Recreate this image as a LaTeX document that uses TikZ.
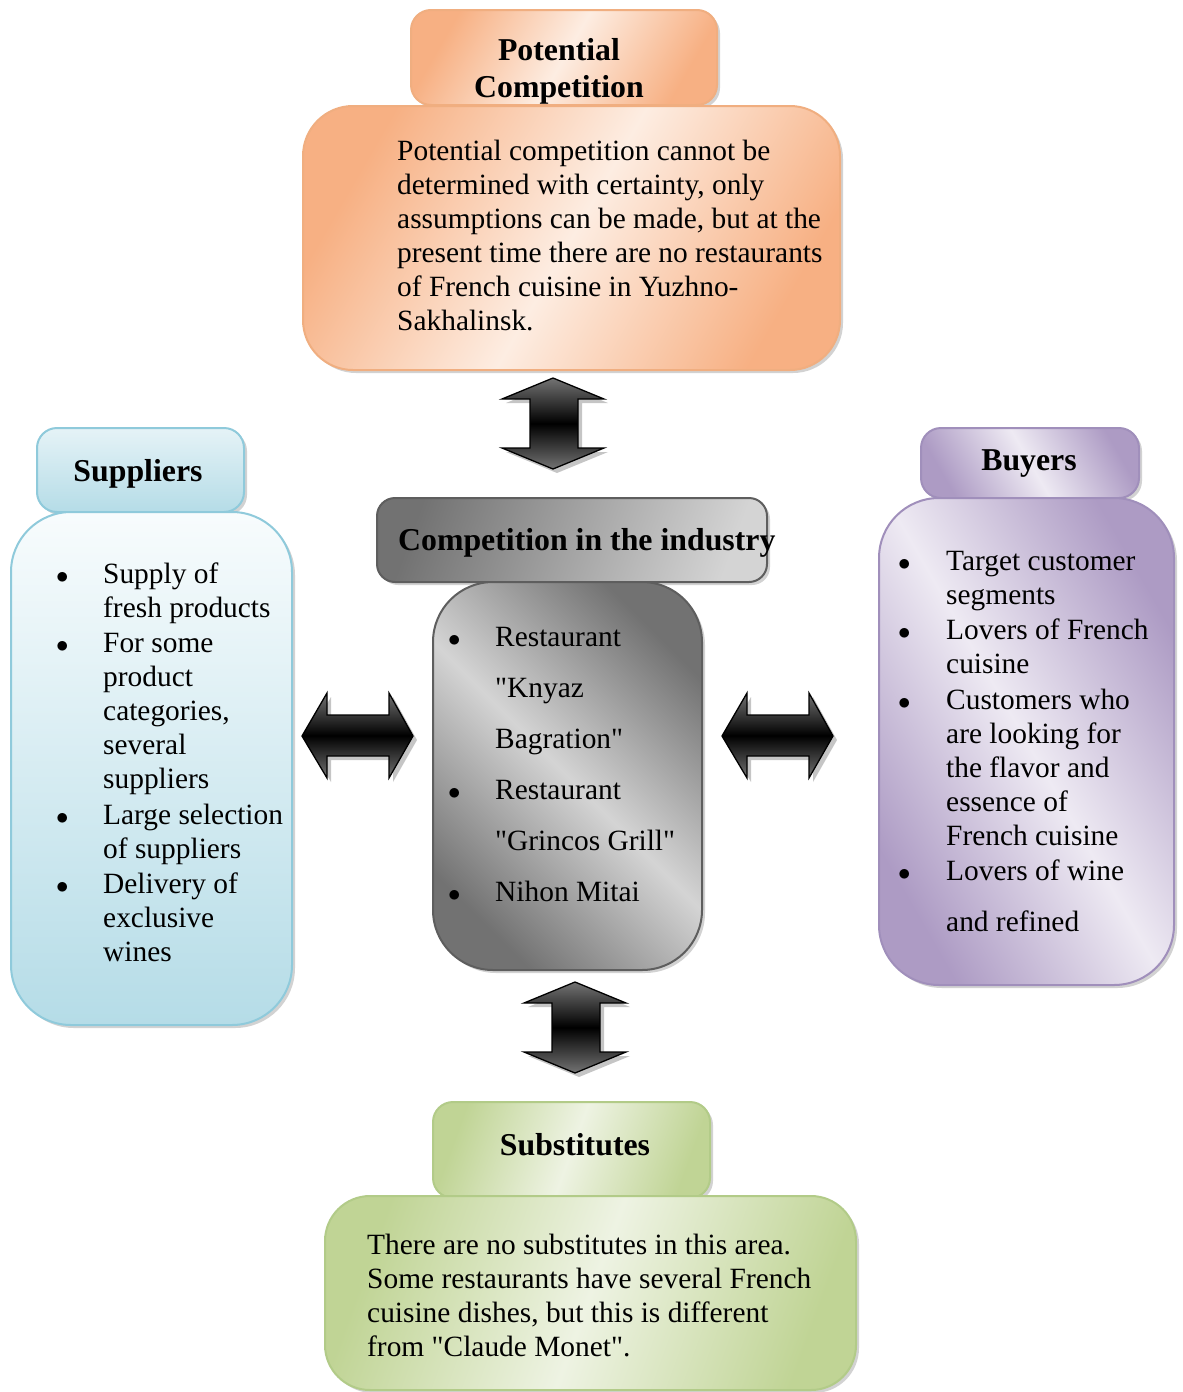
\documentclass[tikz,border=0pt]{standalone}
\usepackage{fontspec}
\setmainfont{Liberation Serif}
\usetikzlibrary{shadows}
\definecolor{orD}{HTML}{F7B083}
\definecolor{orL}{HTML}{FDEDE2}
\definecolor{orB}{HTML}{F0AE80}
\definecolor{blD}{HTML}{B5DCE7}
\definecolor{blL}{HTML}{F8FCFD}
\definecolor{blB}{HTML}{8FCADB}
\definecolor{grD}{HTML}{727272}
\definecolor{grL}{HTML}{D4D4D4}
\definecolor{grB}{HTML}{5E5E5E}
\definecolor{puD}{HTML}{AD9BC4}
\definecolor{puL}{HTML}{EEEAF3}
\definecolor{puB}{HTML}{A08FBB}
\definecolor{gnD}{HTML}{C0D495}
\definecolor{gnL}{HTML}{EEF3E3}
\definecolor{gnB}{HTML}{B2CB88}
\newcommand{\bfnt}{\fontsize{29.4}{34}\selectfont}
\newcommand{\hfnt}{\fontsize{31.8}{37}\selectfont\bfseries}
\newcommand{\blt}{\ensuremath{\bullet}}
\newcommand{\qq}{\textquotedbl}
\begin{document}
\begin{tikzpicture}[x=1pt,y=-1pt,
  box/.style={draw, line width=2pt, inner sep=0pt,
    drop shadow={opacity=0.35,shadow xshift=3pt,shadow yshift=-3pt}},
  orbox/.style={box, draw=orB, left color=orD, right color=orD, middle color=orL, shading angle=60},
  blbox/.style={box, draw=blB, top color=blL, bottom color=blD},
  blhead/.style={box, draw=blB, top color=blD!35, bottom color=blD},
  grbox/.style={box, draw=grB, left color=grD, right color=grD, middle color=grL, shading angle=135},
  grhead/.style={box, draw=grB, left color=grD, right color=grL, shading angle=70},
  pubox/.style={box, draw=puB, left color=puD, right color=puD, middle color=puL, shading angle=-60},
  gnbox/.style={box, draw=gnB, left color=gnD, right color=gnD, middle color=gnL, shading angle=70},
  txt/.style={inner sep=0pt, anchor=base west},
  htxt/.style={inner sep=0pt, anchor=base},
  blockarrow/.style={draw=black, line width=1.3pt, top color=black!55, bottom color=black!55, middle color=black,
    drop shadow={opacity=0.45,shadow xshift=4pt,shadow yshift=-4pt}}]
\useasboundingbox[fill=white] (0,0) rectangle (1183,1392);

% ---------- Potential competition ----------
\node[orbox, rounded corners=20pt, minimum width=306pt, minimum height=95pt] (pch) at (564,57.5) {};
\node[orbox, rounded corners=50pt, minimum width=537pt, minimum height=264pt] (pcb) at (571.5,238) {};
\node[htxt] (pcht) at (559,60) {\hfnt\begin{tabular}[t]{@{}c@{}}Potential\\Competition\end{tabular}};
\node[txt] (pcbt) at (397,160) {\bfnt\begin{tabular}[t]{@{}l@{}}Potential competition cannot be\\
determined with certainty, only\\
assumptions can be made, but at the\\
present time there are no restaurants\\
of French cuisine in Yuzhno-\\
Sakhalinsk.\end{tabular}};

% ---------- Suppliers ----------
\node[blhead, rounded corners=20pt, minimum width=207pt, minimum height=84pt] (suh) at (140.5,470) {};
\node[blbox, rounded corners=60pt, minimum width=281pt, minimum height=513pt] (sub) at (151.5,768.5) {};
\node[htxt] (suht) at (138,481) {\hfnt Suppliers};
\node[txt] (subt) at (56,583) {\bfnt\begin{tabular}[t]{@{}p{47pt}@{}l@{}}
\blt & Supply of\\ & fresh products\\[1.5pt]
\blt & For some\\ & product\\ & categories,\\ & several\\ & suppliers\\[1.5pt]
\blt & Large selection\\ & of suppliers\\[1.5pt]
\blt & Delivery of\\ & exclusive\\ & wines\end{tabular}};

% ---------- Competition in the industry ----------
\node[grhead, rounded corners=18pt, minimum width=390pt, minimum height=84pt] (cih) at (572,540) {};
\node[grbox, rounded corners=60pt, minimum width=269pt, minimum height=388pt] (cib) at (567.5,776) {};
\node[txt] (ciht) at (398,550) {\hfnt Competition in the industry};
\node[txt] (cibt) at (448,646) {\bfnt\begin{tabular}[t]{@{}p{47pt}@{}l@{}}
\blt & Restaurant\\[17pt] & \qq Knyaz\\[17pt] & Bagration\qq\\[17pt]
\blt & Restaurant\\[17pt] & \qq Grincos Grill\qq\\[17pt]
\blt & Nihon Mitai\end{tabular}};

% ---------- Buyers ----------
\node[pubox, rounded corners=20pt, minimum width=218pt, minimum height=70pt] (buh) at (1030,463) {};
\node[pubox, rounded corners=60pt, minimum width=295pt, minimum height=487pt] (bub) at (1026.5,741.5) {};
\node[htxt] (buht) at (1029,470) {\hfnt Buyers};
\node[txt] (bubt) at (898,570) {\bfnt\begin{tabular}[t]{@{}p{48pt}@{}l@{}}
\blt & Target customer\\ & segments\\[1.5pt]
\blt & Lovers of French\\ & cuisine\\[1.5pt]
\blt & Customers who\\ & are looking for\\ & the flavor and\\ & essence of\\ & French cuisine\\[1.5pt]
\blt & Lovers of wine\\[17pt] & and refined\end{tabular}};

% ---------- Substitutes ----------
\node[gnbox, rounded corners=20pt, minimum width=277pt, minimum height=96pt] (sth) at (571.5,1150) {};
\node[gnbox, rounded corners=45pt, minimum width=531pt, minimum height=194pt] (stb) at (590.5,1293) {};
\node[htxt] (stht) at (575,1155) {\hfnt Substitutes};
\node[txt] (stbt) at (367,1254) {\bfnt\begin{tabular}[t]{@{}l@{}}There are no substitutes in this area.\\
Some restaurants have several French\\
cuisine dishes, but this is different\\
from \qq Claude Monet\qq.\end{tabular}};

% ---------- Block arrows ----------
\begin{scope}[shift={(502,378)}]
\draw[blockarrow] (51,0) -- (102,21) -- (76,21) -- (76,70) -- (102,70) -- (51,91) -- (0,70) -- (28,70) -- (28,21) -- (0,21) -- cycle;
\end{scope}
\begin{scope}[shift={(524,982)}]
\draw[blockarrow] (51,0) -- (102,21) -- (76,21) -- (76,70) -- (102,70) -- (51,91) -- (0,70) -- (28,70) -- (28,21) -- (0,21) -- cycle;
\end{scope}
\begin{scope}[shift={(302,693)}]
\draw[blockarrow] (0,43) -- (25,0) -- (25,22) -- (87,22) -- (87,0) -- (111,43) -- (87,85) -- (87,63) -- (25,63) -- (25,85) -- cycle;
\end{scope}
\begin{scope}[shift={(722,693)}]
\draw[blockarrow] (0,43) -- (25,0) -- (25,22) -- (87,22) -- (87,0) -- (111,43) -- (87,85) -- (87,63) -- (25,63) -- (25,85) -- cycle;
\end{scope}
\end{tikzpicture}
\end{document}
